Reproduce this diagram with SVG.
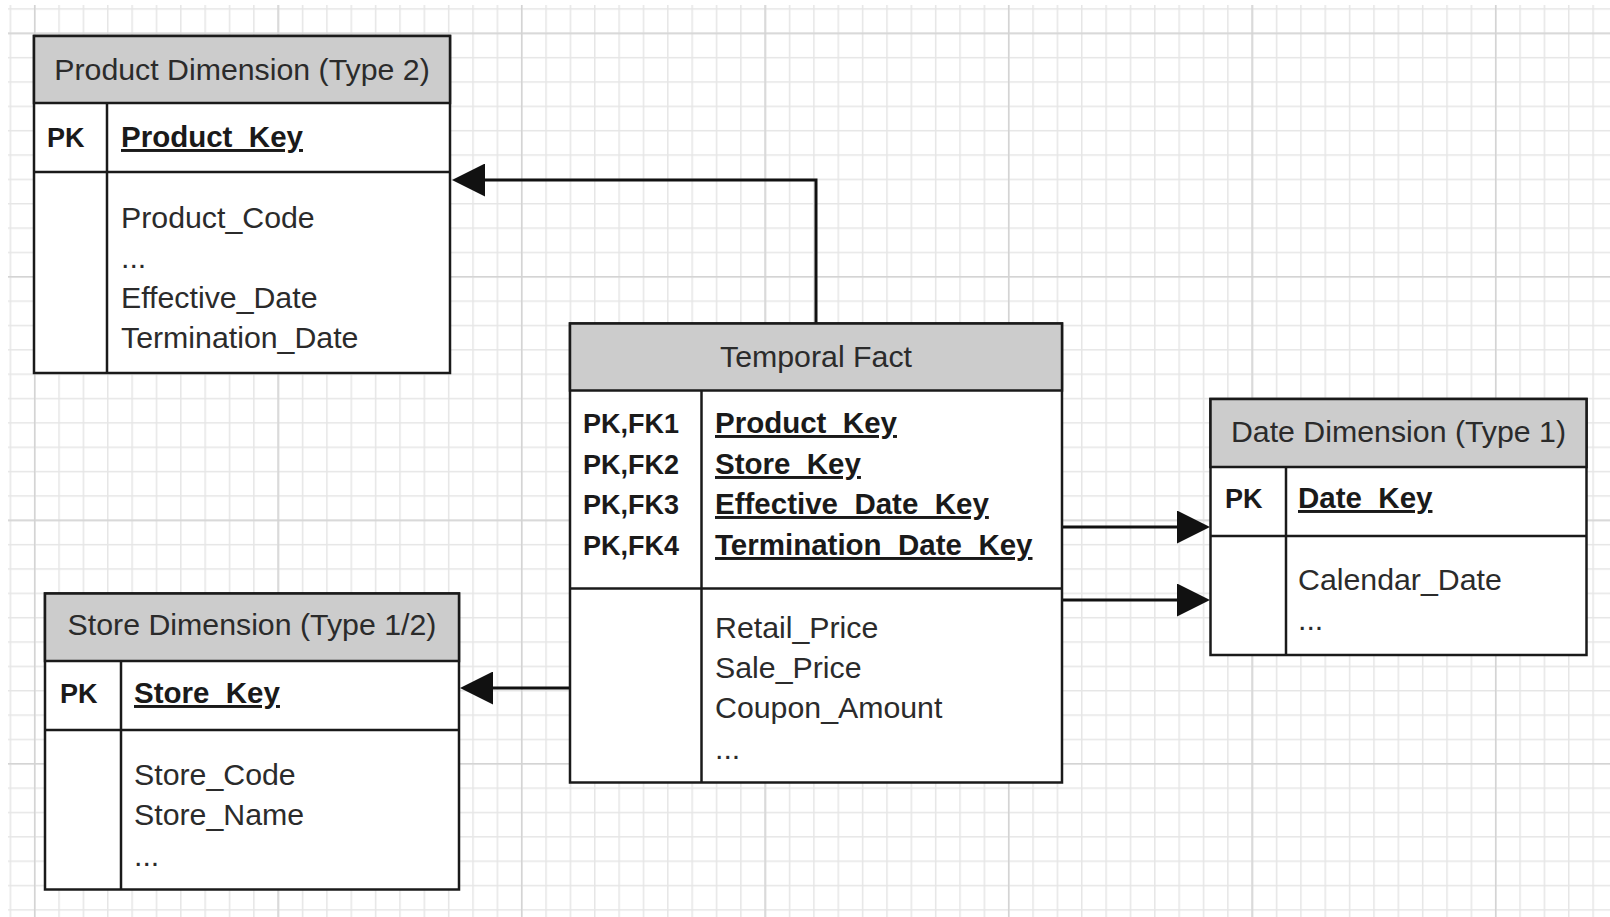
<svg xmlns="http://www.w3.org/2000/svg" width="1610" height="917" viewBox="0 0 1610 917">
<defs>
<pattern id="minor" x="33.95" y="32.55" width="24.35" height="24.35" patternUnits="userSpaceOnUse">
<path d="M0.75 0V24.35M0 0.75H24.35" stroke="#e6e6e6" stroke-width="1.5" fill="none"/>
</pattern>
<pattern id="major" x="33.95" y="32.55" width="243.5" height="243.5" patternUnits="userSpaceOnUse">
<path d="M0.75 0V243.5M0 0.75H243.5" stroke="#d3d3d3" stroke-width="1.5" fill="none"/>
</pattern>
<marker id="arrow" viewBox="0 0 33 33" markerWidth="33" markerHeight="33" markerUnits="userSpaceOnUse" refX="0" refY="16.5" orient="auto">
<path d="M0 0L33 16.5L0 33Z" fill="#111"/>
</marker>
</defs>
<style>
.box{fill:#fff;stroke:#1a1a1a;stroke-width:2.5}
.hdr{fill:#cccccc;stroke:#1a1a1a;stroke-width:2.5}
.ln{stroke:#1a1a1a;stroke-width:2.5;fill:none}
.title{font-family:"Liberation Sans",Arial,sans-serif;font-size:30.3px;fill:#2b2b2b;text-anchor:middle}
.txt{font-family:"Liberation Sans",Arial,sans-serif;font-size:30.3px;fill:#2b2b2b}
.pk{font-family:"Liberation Sans",Arial,sans-serif;font-size:27px;font-weight:bold;fill:#1a1a1a}
.key{font-family:"Liberation Sans",Arial,sans-serif;font-size:29.5px;font-weight:bold;fill:#1a1a1a;text-decoration:underline}
.conn{stroke:#111;stroke-width:3;fill:none}
</style>
<rect x="0" y="0" width="1610" height="917" fill="#fff"/>
<rect x="8" y="5" width="1602" height="912" fill="url(#minor)"/>
<rect x="8" y="5" width="1602" height="912" fill="url(#major)"/>

<g id="connectors">
<path class="conn" d="M816 323.5V180H485" marker-end="url(#arrow)"/>
<path class="conn" d="M570 688H493" marker-end="url(#arrow)"/>
<path class="conn" d="M1062 527H1177" marker-end="url(#arrow)"/>
<path class="conn" d="M1062 600H1177" marker-end="url(#arrow)"/>
</g>

<g id="product-dimension">
<rect class="box" x="34" y="36" width="416" height="337"/>
<rect class="hdr" x="34" y="36" width="416" height="67"/>
<line class="ln" x1="34" y1="172" x2="450" y2="172"/>
<line class="ln" x1="107" y1="103" x2="107" y2="373"/>
<text class="title" x="242" y="80">Product Dimension (Type 2)</text>
<text class="pk" x="47" y="147">PK</text>
<text class="key" x="121" y="147">Product_Key</text>
<text class="txt" x="121" y="228">Product_Code</text>
<text class="txt" x="121" y="268">...</text>
<text class="txt" x="121" y="308">Effective_Date</text>
<text class="txt" x="121" y="348">Termination_Date</text>
</g>

<g id="temporal-fact">
<rect class="box" x="570" y="323.5" width="492" height="459"/>
<rect class="hdr" x="570" y="323.5" width="492" height="67"/>
<line class="ln" x1="570" y1="588.5" x2="1062" y2="588.5"/>
<line class="ln" x1="701.5" y1="390.5" x2="701.5" y2="782.5"/>
<text class="title" x="816" y="367">Temporal Fact</text>
<text class="pk" x="583" y="433">PK,FK1</text>
<text class="pk" x="583" y="474">PK,FK2</text>
<text class="pk" x="583" y="514">PK,FK3</text>
<text class="pk" x="583" y="555">PK,FK4</text>
<text class="key" x="715" y="433">Product_Key</text>
<text class="key" x="715" y="474">Store_Key</text>
<text class="key" x="715" y="514">Effective_Date_Key</text>
<text class="key" x="715" y="555">Termination_Date_Key</text>
<text class="txt" x="715" y="638">Retail_Price</text>
<text class="txt" x="715" y="678">Sale_Price</text>
<text class="txt" x="715" y="718">Coupon_Amount</text>
<text class="txt" x="715" y="759">...</text>
</g>

<g id="date-dimension">
<rect class="box" x="1210.5" y="399" width="376" height="256"/>
<rect class="hdr" x="1210.5" y="399" width="376" height="68"/>
<line class="ln" x1="1210.5" y1="536" x2="1586.5" y2="536"/>
<line class="ln" x1="1286" y1="467" x2="1286" y2="655"/>
<text class="title" x="1398.5" y="442">Date Dimension (Type 1)</text>
<text class="pk" x="1225" y="508">PK</text>
<text class="key" x="1298" y="508">Date_Key</text>
<text class="txt" x="1298" y="590">Calendar_Date</text>
<text class="txt" x="1298" y="630">...</text>
</g>

<g id="store-dimension">
<rect class="box" x="45" y="593.5" width="414" height="296"/>
<rect class="hdr" x="45" y="593.5" width="414" height="67.5"/>
<line class="ln" x1="45" y1="730" x2="459" y2="730"/>
<line class="ln" x1="121" y1="661" x2="121" y2="889.5"/>
<text class="title" x="252" y="635">Store Dimension (Type 1/2)</text>
<text class="pk" x="60" y="703">PK</text>
<text class="key" x="134" y="703">Store_Key</text>
<text class="txt" x="134" y="785">Store_Code</text>
<text class="txt" x="134" y="825">Store_Name</text>
<text class="txt" x="134" y="866">...</text>
</g>
</svg>
